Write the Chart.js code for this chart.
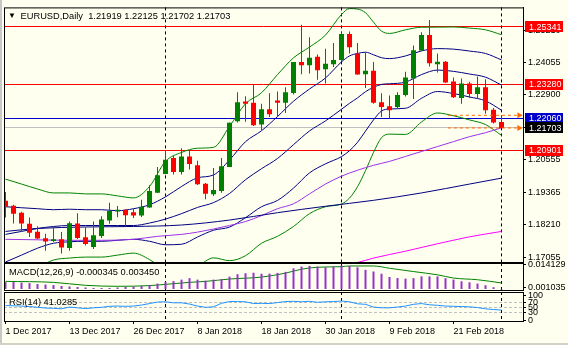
<!DOCTYPE html>
<html>
<head>
<meta charset="utf-8">
<title>EURUSD Daily</title>
<script src="https://cdn.jsdelivr.net/npm/chart.js"></script>
<style>
  html, body { margin: 0; padding: 0; background: #fffff0; }
  #wrap { position: relative; width: 568px; height: 345px; background: #fffff0; overflow: hidden; }
  #wrap canvas { position: absolute; left: 0; top: 0; }
  #edgeLeft { position: absolute; left: 0; top: 0; width: 2px; height: 345px; background: #c8c8c8; }
  #edgeBottom { position: absolute; left: 0; top: 343px; width: 568px; height: 2px; background: #d4d0c8; }
</style>
</head>
<body>
<div id="wrap">
  <div id="edgeLeft"></div>
  <div id="edgeBottom"></div>
  <canvas id="mainChart" width="568" height="345"></canvas>
  <canvas id="macdChart" width="568" height="345"></canvas>
  <canvas id="rsiChart" width="568" height="345"></canvas>
</div>
<script>
// Daily candles, 1 Dec 2017 .. 1 Mar 2018 (bar index 0..62)
const opens = [1.19080,1.18902,1.18653,1.18252,1.17967,1.17729,1.17633,1.17694,1.17385,1.18262,
  1.17765,1.17420,1.17811,1.18369,1.18699,1.18760,1.18671,1.18547,1.18842,1.19375,
  1.20050,1.20618,1.20121,1.20679,1.20359,1.19694,1.19318,1.19435,1.20299,1.21948,
  1.22658,1.22609,1.21827,1.22374,1.22694,1.22609,1.22964,1.24080,1.23959,1.24268,
  1.23817,1.23994,1.24151,1.25085,1.24385,1.23639,1.23760,1.22633,1.22481,1.22456,
  1.22893,1.23486,1.24492,1.25050,1.23994,1.24090,1.23380,1.22786,1.23309,1.22928,
  1.23166,1.22360,1.21919];
const highs = [1.19399,1.18938,1.18689,1.18476,1.18166,1.17896,1.18131,1.17953,1.18333,1.18628,
  1.18131,1.18333,1.18522,1.19009,1.18891,1.18778,1.18785,1.19115,1.19638,1.20299,
  1.20856,1.20704,1.20974,1.20881,1.20526,1.19719,1.20263,1.20618,1.21898,1.22989,
  1.22847,1.23248,1.22573,1.22953,1.23014,1.23166,1.24080,1.25416,1.24968,1.24350,
  1.24552,1.24766,1.25146,1.25181,1.24766,1.24410,1.24080,1.22953,1.22872,1.22989,
  1.23724,1.24670,1.25146,1.25594,1.24385,1.24115,1.23522,1.23486,1.23369,1.23557,
  1.23461,1.22420,1.22125];
const lows = [1.18476,1.18262,1.17978,1.17775,1.17694,1.17278,1.17598,1.17186,1.17278,1.17705,
  1.17470,1.17349,1.17740,1.18252,1.18486,1.18166,1.18465,1.18500,1.18831,1.19364,
  1.20040,1.20028,1.20028,1.20206,1.19648,1.19140,1.19257,1.19375,1.20299,1.21898,
  1.21923,1.21770,1.21628,1.22100,1.22100,1.22242,1.22907,1.23639,1.23664,1.23440,
  1.23309,1.23902,1.24115,1.24385,1.23618,1.23142,1.22573,1.22100,1.22040,1.22395,
  1.22836,1.22751,1.24471,1.23913,1.23700,1.23319,1.22786,1.22573,1.22786,1.22751,
  1.22218,1.21862,1.21702];
const closes = [1.18866,1.18618,1.18262,1.17932,1.17719,1.17612,1.17694,1.17399,1.18273,1.17740,
  1.17527,1.17836,1.18404,1.18714,1.18760,1.18557,1.18547,1.18866,1.19435,1.20004,
  1.20562,1.20121,1.20679,1.20405,1.19673,1.19339,1.19471,1.20323,1.21887,1.22633,
  1.22573,1.21805,1.22374,1.22196,1.22609,1.22989,1.24080,1.23959,1.24232,1.23781,
  1.24019,1.24151,1.25085,1.24613,1.23628,1.23760,1.22609,1.22456,1.22338,1.22893,
  1.23522,1.24506,1.25050,1.24030,1.24090,1.23344,1.22811,1.23309,1.22928,1.23166,
  1.22338,1.21898,1.21703];

// x axis
const tickIdx = [0, 8, 16, 24, 32, 40, 48, 56];
const tickLabels = ['1 Dec 2017', '13 Dec 2017', '26 Dec 2017', '8 Jan 2018', '18 Jan 2018', '30 Jan 2018', '9 Feb 2018', '21 Feb 2018'];
const separators = [20, 42, 62];

// price axis
const priceTicks = [1.25210, 1.24055, 1.22900, 1.21730, 1.20555, 1.19365, 1.18210, 1.17055];
const levelValues = [1.25341, 1.23280, 1.22060, 1.21703, 1.20901];
const levelColors = ['#ff0000', '#ff0000', '#0000cd', '#c0c0c0', '#ff0000'];
const levelBoxColors = ['#ff0000', '#ff0000', '#0000cd', '#000000', '#ff0000'];
const arrowLevels = [1.22160, 1.21703];
const arrowFrom = 55.3, arrowTo = 64.2;

// bollinger lines (read at these bars)
const bandIdx = [0,2,4,6,8,10,12,14,16,18,20,22,24,26,28,30,32,34,36,38,40,42,43,44,45,46,47,48,50,52,54,56,58,60,62];
const bbOuterUpper = [1.19862,1.19684,1.19506,1.19364,1.19364,1.19329,1.19329,1.19258,1.19186,1.19595,1.20501,1.20821,1.20974,1.21006,1.21759,1.22577,1.22971,1.23625,1.24229,1.24616,1.25050,1.25789,1.26002,1.25985,1.25853,1.25512,1.25192,1.25107,1.25238,1.25331,1.25334,1.25341,1.25299,1.25238,1.25061];
const bbInnerUpper = [1.18867,1.18831,1.18796,1.18760,1.18778,1.18760,1.18760,1.18724,1.18796,1.18938,1.19222,1.19595,1.19908,1.20011,1.20551,1.21209,1.21603,1.22115,1.22666,1.23106,1.23504,1.24083,1.24297,1.24386,1.24432,1.24339,1.24233,1.24201,1.24297,1.24478,1.24561,1.24542,1.24473,1.24386,1.24155];
const bbMiddle = [1.17872,1.17978,1.18085,1.18156,1.18191,1.18191,1.18191,1.18191,1.18191,1.18280,1.18422,1.18618,1.18842,1.19016,1.19343,1.19840,1.20235,1.20604,1.21102,1.21596,1.21958,1.22378,1.22591,1.22786,1.23010,1.23167,1.23273,1.23295,1.23355,1.23625,1.23789,1.23742,1.23646,1.23533,1.23248];
const bbInnerLower = [1.16877,1.17125,1.17374,1.17552,1.17605,1.17623,1.17623,1.17658,1.17694,1.17623,1.17498,1.17516,1.17776,1.18021,1.18134,1.18472,1.18867,1.19094,1.19538,1.20086,1.20412,1.20672,1.20885,1.21187,1.21589,1.21994,1.22314,1.22388,1.22413,1.22772,1.23016,1.22943,1.22820,1.22680,1.22342];
const bbOuterLower = [1.15882,1.16272,1.16663,1.16948,1.17019,1.17054,1.17054,1.17125,1.17196,1.16965,1.16574,1.16415,1.16710,1.17026,1.16926,1.17104,1.17552,1.17801,1.18156,1.18618,1.18867,1.18966,1.19179,1.19588,1.20167,1.20821,1.21354,1.21482,1.21471,1.21919,1.22243,1.22143,1.21994,1.21827,1.21436];

// moving averages
const maPurpleIdx = [0,4,8,12,16,19,22,24,28,30,32,34,36,38,40,42,44,46,48,50,52,54,56,58,60,62];
const maPurple = [1.17694,1.17676,1.17658,1.17658,1.17694,1.17801,1.17872,1.17953,1.18191,1.18334,1.18547,1.18796,1.18973,1.19329,1.19684,1.19968,1.20181,1.20359,1.20501,1.20679,1.20857,1.21034,1.21212,1.21390,1.21532,1.21710];
const maNavyIdx = [0,4,10,16,22,28,34,40,46,52,58,62];
const maNavy = [1.17978,1.18085,1.18138,1.18156,1.18209,1.18387,1.18653,1.18884,1.19098,1.19364,1.19684,1.19897];
const maMagentaIdx = [40,44,46,50,54,58,62];
const maMagenta = [1.16699,1.16859,1.17019,1.17267,1.17534,1.17783,1.17978];

// MACD(12,26,9)
const macdMain = [0.00395,0.00395,0.00366,0.00338,0.00282,0.00254,0.00225,0.00169,0.00141,0.00113,
  0.00085,0.00056,0.00056,0.00056,0.00085,0.00113,0.00141,0.00169,0.00225,0.00310,
  0.00395,0.00451,0.00536,0.00620,0.00536,0.00479,0.00536,0.00564,0.00705,0.00846,
  0.00902,0.00930,0.00874,0.00880,0.00920,0.00980,0.01184,0.01285,0.01325,0.01285,
  0.01240,0.01285,0.01342,0.01325,0.01240,0.01099,0.01003,0.00874,0.00688,0.00631,
  0.00592,0.00620,0.00722,0.00722,0.00722,0.00620,0.00536,0.00440,0.00383,0.00310,
  0.00214,0.00102,-0.000345];
const signalIdx = [0,6,10,14,18,20,23,25,28,32,35,37,39,42,43,46,48,51,54,56,59,62];
const macdSignal = [0.00434,0.00378,0.00209,0.00152,0.00192,0.00265,0.00378,0.00434,0.00569,0.00682,0.00908,0.01133,0.01246,0.0128,0.01319,0.01319,0.01189,0.00998,0.00812,0.00626,0.0053,0.00345];
const macdTicks = [0.014129, 0.001035];

// RSI(14)
const rsiValues = [59,58,57,55,52,49,48,46,53,50,
  47,50,52,56,57,56,57,61,67,73,
  74,70,70,65,57,52,54,68,75,75,
  74,67,68,67,71,75,76,74,76,72,
  74,75,77,74,66,64,53,50,50,53,
  57,64,67,62,60,57,56,55,54,51,
  46,43,41.03];
const rsiTicks = [100, 70, 50, 30, 0];
const rsiLevels = [70, 50, 30];

const FONT = '"Liberation Sans", Arial, sans-serif';
Chart.defaults.font.family = FONT;
Chart.defaults.font.size = 9;
Chart.defaults.color = '#000';

const xRange = { min: -0.1875, max: 64.6875 };
const candleColors = closes.map((c, i) => c >= opens[i] ? '#008000' : '#ff0000');

function pts(idx, vals) {
  return idx.map((v, k) => ({ x: v, y: vals[k] }));
}

function lineSet(data, color) {
  return {
    type: 'line', data, borderColor: color, borderWidth: 1, pointRadius: 0,
    cubicInterpolationMode: 'monotone', order: 3
  };
}

function xScale(show) {
  return {
    type: 'linear', min: xRange.min, max: xRange.max, offset: false, display: show,
    grid: { display: show, drawOnChartArea: false, drawTicks: true, tickLength: 3, color: '#000' },
    border: { display: show, color: '#000' },
    afterBuildTicks: s => { s.ticks = tickIdx.map(v => ({ value: v })); },
    afterFit: s => { if (show) s.height = 24; },
    ticks: {
      autoSkip: false, maxRotation: 0, minRotation: 0, align: 'start', padding: 2,
      font: { size: 9 }, color: '#000',
      callback: v => tickLabels[tickIdx.indexOf(v)]
    }
  };
}

function yScale(min, max, ticks, fmt) {
  return {
    position: 'right', min, max,
    afterFit: s => { s.width = 45; },
    afterBuildTicks: s => { s.ticks = ticks.map(v => ({ value: v })); },
    grid: { drawOnChartArea: false, drawTicks: true, tickLength: 3, color: '#000' },
    border: { display: true, color: '#000' },
    ticks: { autoSkip: false, padding: 2, color: '#000', font: { size: 9 }, callback: fmt }
  };
}

// levels, separators, frame, titles and price boxes
const panelDecor = {
  id: 'panelDecor',
  beforeDatasetsDraw(chart, args, opts) {
    const { ctx, chartArea: a, scales: { x, y } } = chart;
    ctx.save();
    ctx.lineWidth = 1;
    (opts.levels || []).forEach(lv => {
      const py = Math.floor(y.getPixelForValue(lv.value)) + 0.5;
      ctx.strokeStyle = lv.color;
      ctx.setLineDash(lv.dash || []);
      ctx.beginPath();
      ctx.moveTo(a.left, py);
      ctx.lineTo(a.right, py);
      ctx.stroke();
    });
    ctx.strokeStyle = '#000';
    ctx.setLineDash([3, 3]);
    separators.forEach(i => {
      const px = Math.floor(x.getPixelForValue(i)) + 0.5;
      ctx.beginPath();
      ctx.moveTo(px, a.top);
      ctx.lineTo(px, a.bottom);
      ctx.stroke();
    });
    ctx.restore();
  },
  afterDraw(chart, args, opts) {
    const { ctx, chartArea: a, scales: { y } } = chart;
    ctx.save();
    ctx.strokeStyle = '#000';
    ctx.lineWidth = 1;
    ctx.strokeRect(a.left + 0.5, a.top + 0.5, a.right - a.left, a.bottom - a.top);

    ctx.font = '9px ' + FONT;
    ctx.textBaseline = 'middle';
    (opts.boxes || []).forEach(b => {
      const py = y.getPixelForValue(b.value);
      ctx.fillStyle = b.color;
      ctx.fillRect(a.right + 2, Math.round(py - 5.5), 38, 11);
      ctx.fillStyle = '#fff';
      ctx.fillText(b.value.toFixed(5), a.right + 6, py + 0.5);
    });

    if (opts.title) {
      ctx.fillStyle = '#000';
      ctx.font = '9.3px ' + FONT;
      ctx.fillText(opts.title.text, a.left + opts.title.dx, a.top + opts.title.dy);
    }
    if (opts.marker) {
      ctx.font = '8px ' + FONT;
      ctx.fillText('\u25BC', a.left + 4, a.top + 8.5);
    }
    ctx.restore();
  }
};

const baseOptions = {
  responsive: false,
  animation: false,
  events: []
};

// main price window
new Chart(document.getElementById('mainChart'), {
  type: 'bar',
  data: {
    datasets: [
      {
        label: 'wicks', data: lows.map((l, i) => ({ x: i, y: [l, highs[i]] })),
        backgroundColor: candleColors, barThickness: 1, grouped: false, inflateAmount: 0, order: 1
      },
      {
        label: 'bodies', data: opens.map((o, i) => ({ x: i, y: [o, closes[i]] })),
        backgroundColor: candleColors, barThickness: 5, grouped: false, inflateAmount: 0,
        minBarLength: 1, order: 0
      },
      lineSet(pts(maMagentaIdx, maMagenta), '#ff00ff'),
      lineSet(pts(maNavyIdx, maNavy), '#000080'),
      lineSet(pts(maPurpleIdx, maPurple), '#9932e6'),
      lineSet(pts(bandIdx, bbOuterLower), '#008000'),
      lineSet(pts(bandIdx, bbOuterUpper), '#008000'),
      lineSet(pts(bandIdx, bbInnerLower), '#000080'),
      lineSet(pts(bandIdx, bbMiddle), '#000080'),
      lineSet(pts(bandIdx, bbInnerUpper), '#000080'),
      ...arrowLevels.map(v => ({
        type: 'line', data: [{ x: arrowFrom, y: v }, { x: arrowTo, y: v }],
        borderColor: '#ff6a00', borderWidth: 1, borderDash: [3, 3],
        pointRadius: [0, 3.5], pointStyle: 'triangle', pointRotation: 90,
        pointBackgroundColor: '#ff6a00', pointBorderColor: '#ff6a00', pointBorderWidth: 0,
        order: -1
      }))
    ]
  },
  options: {
    ...baseOptions,
    layout: { padding: { left: 4, top: 4, right: 0, bottom: 83 }, autoPadding: false },
    plugins: {
      legend: { display: false },
      tooltip: { enabled: false },
      panelDecor: {
        levels: levelValues.map((v, k) => ({ value: v, color: levelColors[k] })),
        boxes: levelValues.map((v, k) => ({ value: v, color: levelBoxColors[k] })),
        title: { text: 'EURUSD,Daily  1.21919 1.22125 1.21702 1.21703', dx: 16.5, dy: 9 },
        marker: true
      }
    },
    scales: {
      x: xScale(false),
      y: yScale(1.16877, 1.26045, priceTicks, v => v.toFixed(5))
    }
  },
  plugins: [panelDecor]
});

// MACD window
new Chart(document.getElementById('macdChart'), {
  type: 'bar',
  data: {
    datasets: [
      {
        label: 'MACD', data: macdMain.map((v, i) => ({ x: i, y: v })),
        backgroundColor: '#9932cc', barThickness: 2, grouped: false, inflateAmount: 0, order: 1
      },
      lineSet(pts(signalIdx, macdSignal), '#008000')
    ]
  },
  options: {
    ...baseOptions,
    layout: { padding: { left: 4, top: 263, right: 0, bottom: 55 }, autoPadding: false },
    plugins: {
      legend: { display: false },
      tooltip: { enabled: false },
      panelDecor: { title: { text: 'MACD(12,26,9) -0.000345 0.003450', dx: 5, dy: 9 } }
    },
    scales: {
      x: xScale(false),
      y: Object.assign(yScale(-0.0006, 0.0149, macdTicks, v => v.toFixed(6)), {})
    }
  },
  plugins: [panelDecor]
});

// RSI window
new Chart(document.getElementById('rsiChart'), {
  type: 'line',
  data: {
    datasets: [
      {
        label: 'RSI', data: rsiValues.map((v, i) => ({ x: i, y: v })),
        borderColor: '#1e90ff', borderWidth: 1, pointRadius: 0, tension: 0
      }
    ]
  },
  options: {
    ...baseOptions,
    layout: { padding: { left: 4, top: 292, right: 0, bottom: 0 }, autoPadding: false },
    plugins: {
      legend: { display: false },
      tooltip: { enabled: false },
      panelDecor: {
        levels: rsiLevels.map(v => ({ value: v, color: '#c0c0c0', dash: [3, 2] })),
        title: { text: 'RSI(14) 41.0285', dx: 5, dy: 10.5 }
      }
    },
    scales: {
      x: xScale(true),
      y: yScale(-2.8, 113.2, rsiTicks, v => String(v))
    }
  },
  plugins: [panelDecor]
});
</script>
</body>
</html>
